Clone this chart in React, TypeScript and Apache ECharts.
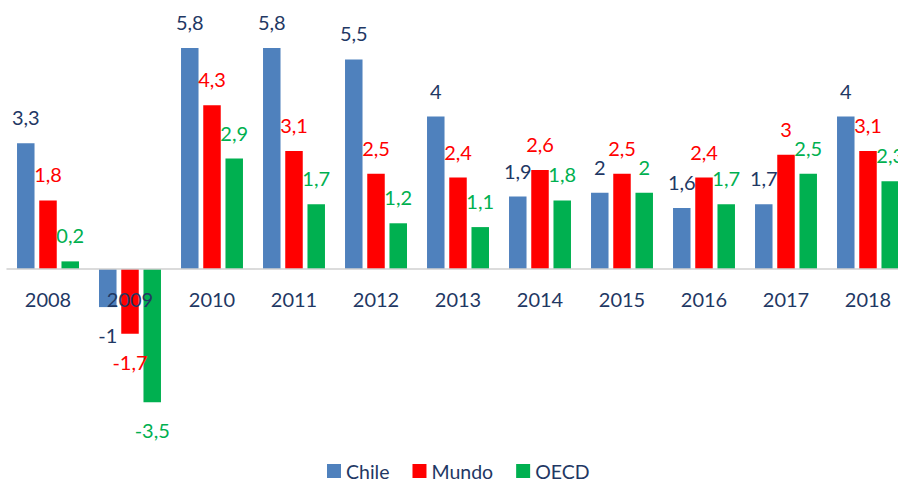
import React, { useEffect, useRef } from "react";
import * as echarts from "echarts";

const years = ["2008", "2009", "2010", "2011", "2012", "2013", "2014", "2015", "2016", "2017", "2018"];
const chile = [3.3, -1, 5.8, 5.8, 5.5, 4, 1.9, 2, 1.6, 1.7, 4];
const mundo = [1.8, -1.7, 4.3, 3.1, 2.5, 2.4, 2.6, 2.5, 2.4, 3, 3.1];
const oecd = [0.2, -3.5, 2.9, 1.7, 1.2, 1.1, 1.8, 2, 1.7, 2.5, 2.3];

const NAVY = "#1F3864";
const FONT = "Lato";

const Y_MIN = -4;
const Y_MAX = 6;
const GRID_TOP = 40.4;
const GRID_H = 381;
// place the category axis (line and labels) at the zero of the value axis
const ZERO_OFFSET = -(GRID_H * (0 - Y_MIN)) / (Y_MAX - Y_MIN);

function makeSeries(name: string, values: number[], color: string, labelColor: string) {
  return {
    name,
    type: "bar",
    barWidth: 17.5,
    barGap: "27%",
    itemStyle: { color },
    label: {
      show: true,
      position: "top",
      distance: 16,
      color: labelColor,
      fontFamily: FONT,
      fontSize: 20,
      formatter: (p: any) => String(p.value).replace(".", ","),
    },
    data: values.map((v) =>
      v < 0 ? { value: v, label: { position: "bottom", distance: 18 } } : { value: v }
    ),
  };
}

export default function App() {
  const ref = useRef<HTMLDivElement>(null);
  useEffect(() => {
    if (!ref.current) return;
    const chart = echarts.init(ref.current, null, { renderer: "svg" });
    chart.setOption({
      animation: false,
      backgroundColor: "#ffffff",
      textStyle: { fontFamily: FONT },
      legend: {
        left: 327,
        top: 461,
        padding: 0,
        itemWidth: 14,
        itemHeight: 14,
        itemGap: 23,
        icon: "rect",
        textStyle: { color: NAVY, fontFamily: FONT, fontSize: 19.5, lineHeight: 15 },
        data: ["Chile", "Mundo", "OECD"],
      },
      grid: { left: 7, top: GRID_TOP, right: 1, height: GRID_H },
      xAxis: {
        type: "category",
        data: years,
        offset: ZERO_OFFSET,
        axisLine: { onZero: false, lineStyle: { color: "#D0D0D0", width: 1.5 } },
        axisTick: { show: false },
        axisLabel: { color: NAVY, fontFamily: FONT, fontSize: 20, margin: 20 },
        z: 10,
      },
      yAxis: {
        type: "value",
        min: Y_MIN,
        max: Y_MAX,
        show: false,
        splitLine: { show: false },
      },
      series: [
        makeSeries("Chile", chile, "#4F81BD", NAVY),
        makeSeries("Mundo", mundo, "#FF0000", "#FF0000"),
        makeSeries("OECD", oecd, "#00B050", "#00B050"),
      ],
    });
    return () => chart.dispose();
  }, []);
  return (
    <div
      style={{
        position: "absolute",
        left: 0,
        top: 0,
        width: 898,
        height: 482,
        overflow: "hidden",
        background: "#ffffff",
      }}
    >
      <div ref={ref} style={{ width: 910, height: 482 }} />
    </div>
  );
}
